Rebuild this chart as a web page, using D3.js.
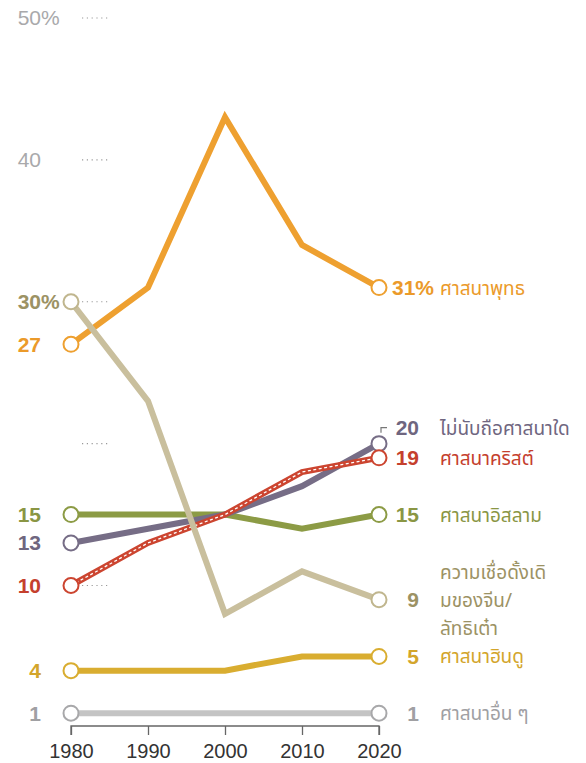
<!DOCTYPE html>
<html>
<head>
<meta charset="utf-8">
<script src="https://cdn.jsdelivr.net/npm/d3@7"></script>
<style>
  html, body { margin: 0; padding: 0; background: #fff; }
  svg { display: block; font-family: "Liberation Sans", Arial, sans-serif; }
</style>
</head>
<body>
<div id="viz"></div>
<script>
const W = 586;
const H = 763;

const years = [1980, 1990, 2000, 2010, 2020];
const yTicks = [50, 40, 30, 20, 10];

const buddhist = [27, 31, 43, 34, 31];
const chineseFolk = [30, 23, 8, 11, 9];
const unaffiliated = [13, 14, 15, 17, 20];
const christian = [10, 13, 15, 18, 19];
const islam = [15, 15, 15, 14, 15];
const hindu = [4, 4, 4, 5, 5];
const other = [1, 1, 1, 1, 1];

const names = {
  buddhist: ['ศาสนาพุทธ'],
  chineseFolk: ['ความเชื่อดั้งเดิ', 'มของจีน/', 'ลัทธิเต๋า'],
  unaffiliated: ['ไม่นับถือศาสนาใด'],
  christian: ['ศาสนาคริสต์'],
  islam: ['ศาสนาอิสลาม'],
  hindu: ['ศาสนาฮินดู'],
  other: ['ศาสนาอื่น ๆ'],
};

// draw order, bottom first
const series = [
  { id: 'other', values: other, line: '#c4c4c4', stroke: '#a8a8aa', text: '#a0a0a3' },
  { id: 'hindu', values: hindu, line: '#d9ad30', stroke: '#d9ad30', text: '#d3a52b' },
  { id: 'islam', values: islam, line: '#8c9b45', stroke: '#8c9b45', text: '#8a9644' },
  { id: 'unaffiliated', values: unaffiliated, line: '#766d86', stroke: '#766d86', text: '#6f667f' },
  { id: 'christian', values: christian, line: '#cc4530', stroke: '#cc4530', text: '#c5402d', dashed: true },
  { id: 'buddhist', values: buddhist, line: '#eea030', stroke: '#eea030', text: '#eb9a2a', pct: true },
  { id: 'chineseFolk', values: chineseFolk, line: '#c9bf9d', stroke: '#c0b68e', text: '#9c9264', pctLeft: true },
];

const x = d3.scaleLinear().domain([1980, 2020]).range([71, 379]);
const y = d3.scaleLinear().domain([10, 50]).range([585.5, 18]);

const svg = d3.select('#viz').append('svg')
  .attr('width', W)
  .attr('height', H);

// y ticks: gray labels with little dotted stubs
const tickG = svg.append('g');
yTicks.forEach((t) => {
  tickG.append('line')
    .attr('x1', 82).attr('x2', 110)
    .attr('y1', y(t)).attr('y2', y(t))
    .attr('stroke', '#999')
    .attr('stroke-width', 1.2)
    .attr('stroke-dasharray', '1.2,3.6');
});
tickG.selectAll('text.ytick')
  .data([50, 40])
  .join('text')
  .attr('class', 'ytick')
  .attr('x', 41)
  .attr('y', (d) => y(d) + 7)
  .attr('text-anchor', 'end')
  .attr('font-size', 21)
  .attr('fill', '#a9a9ab')
  .text((d) => d);
tickG.append('text')
  .attr('x', 41).attr('y', y(50) + 7)
  .attr('font-size', 21).attr('fill', '#a9a9ab')
  .text('%');

// x axis
const xAxis = svg.append('g')
  .attr('transform', 'translate(0,726)')
  .call(d3.axisBottom(x).tickValues(years).tickFormat(d3.format('d')).tickSize(9).tickSizeOuter(9));
xAxis.select('.domain').attr('stroke', '#666').attr('stroke-width', 1.3)
  .attr('d', `M${x(1980)},9V0H${x(2020)}V9`);
xAxis.selectAll('.tick line').attr('stroke', '#666').attr('stroke-width', 1.3);
xAxis.selectAll('.tick text')
  .attr('font-size', 20)
  .attr('font-family', '"Liberation Sans", Arial, sans-serif')
  .attr('fill', '#333')
  .attr('dy', '1.0em');

const line = d3.line()
  .x((d, i) => x(years[i]))
  .y((d) => y(d));

const lineG = svg.append('g');
series.forEach((s) => {
  lineG.append('path')
    .datum(s.values)
    .attr('d', line)
    .attr('fill', 'none')
    .attr('stroke', s.line)
    .attr('stroke-width', 6)
    .attr('stroke-linejoin', 'miter');
  if (s.dashed) {
    lineG.append('path')
      .datum(s.values)
      .attr('d', line)
      .attr('fill', 'none')
      .attr('stroke', '#fff')
      .attr('stroke-width', 1.3)
      .attr('stroke-dasharray', '3,2.5');
  }
});

// end circles
const dotG = svg.append('g');
series.forEach((s) => {
  [0, years.length - 1].forEach((i) => {
    dotG.append('circle')
      .attr('cx', x(years[i]))
      .attr('cy', y(s.values[i]))
      .attr('r', 7.5)
      .attr('fill', '#fff')
      .attr('stroke', s.stroke)
      .attr('stroke-width', 2);
  });
});

// left value labels
const leftG = svg.append('g');
series.forEach((s) => {
  const v = s.values[0];
  leftG.append('text')
    .attr('x', 41)
    .attr('y', y(v) + 7.5)
    .attr('text-anchor', 'end')
    .attr('font-size', 21)
    .attr('font-weight', 700)
    .attr('fill', s.text)
    .text(v);
  if (s.pctLeft) {
    leftG.append('text')
      .attr('x', 41)
      .attr('y', y(v) + 7.5)
      .attr('font-size', 21)
      .attr('font-weight', 700)
      .attr('fill', s.text)
      .text('%');
  }
});

// right value labels + names
const rightG = svg.append('g');
const nudge = { unaffiliated: -16 };
series.forEach((s) => {
  const v = s.values[years.length - 1];
  const ly = y(v) + (nudge[s.id] || 0);
  const nm = names[s.id];
  if (s.pct) {
    rightG.append('text')
      .attr('x', 434).attr('y', ly + 7.5)
      .attr('text-anchor', 'end')
      .attr('font-size', 21).attr('font-weight', 700)
      .attr('fill', s.text)
      .text(v + '%');
  } else {
    rightG.append('text')
      .attr('x', 419).attr('y', ly + 7.5)
      .attr('text-anchor', 'end')
      .attr('font-size', 21).attr('font-weight', 700)
      .attr('fill', s.text)
      .text(v);
  }
  const top = ly + 7 - (nm.length - 1) * 28 / 2;
  nm.forEach((t, k) => {
    rightG.append('text')
      .attr('x', 440)
      .attr('y', top + k * 28)
      .attr('font-size', 19)
      .attr('font-family', '"Noto Sans Thai", "Noto Sans", "DejaVu Sans", sans-serif')
      .attr('fill', s.text)
      .text(t);
  });
  if (nudge[s.id]) {
    rightG.append('path')
      .attr('d', `M${x(2020) + 2},${ly + 5}V${ly}H${x(2020) + 8}`)
      .attr('fill', 'none')
      .attr('stroke', '#777')
      .attr('stroke-width', 1.2);
  }
});
</script>
</body>
</html>
